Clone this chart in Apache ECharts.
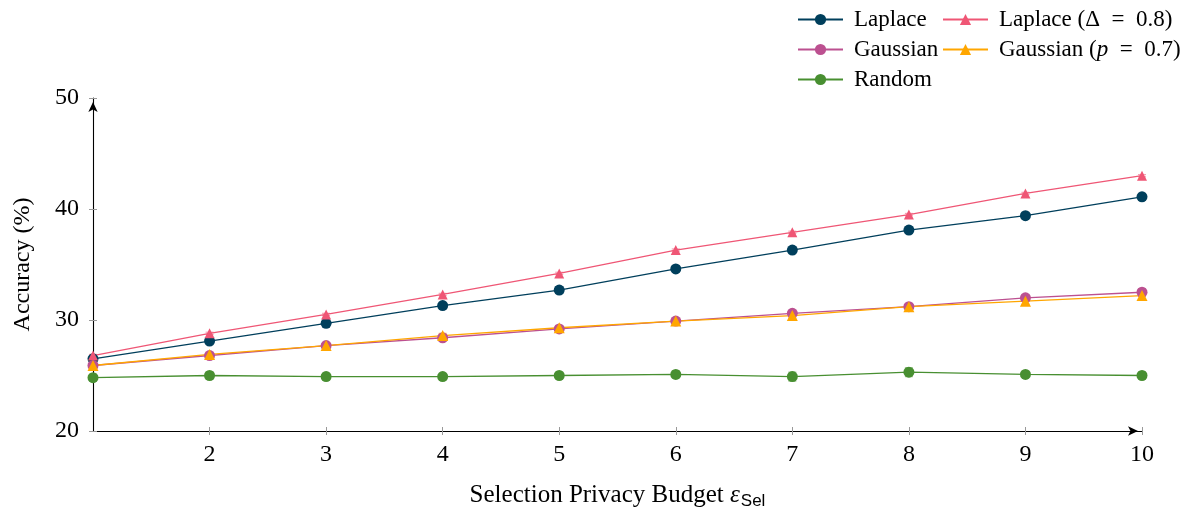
<!DOCTYPE html>
<html>
<head>
<meta charset="utf-8">
<script src="https://cdn.jsdelivr.net/npm/echarts@6/dist/echarts.min.js"></script>
<style>
  html, body { margin: 0; padding: 0; background: #fff; }
  #chart { width: 1190px; height: 511px; }
</style>
</head>
<body>
<div id="chart"></div>
<script>
// Selection privacy budget values on the x axis
const budgets = [1, 2, 3, 4, 5, 6, 7, 8, 9, 10];
const xTickLabels = [2, 3, 4, 5, 6, 7, 8, 9, 10];
const yTicks = [20, 30, 40, 50];

// Mean accuracy (%) per mechanism
const laplace      = [26.5, 28.1, 29.7, 31.3, 32.7, 34.6, 36.3, 38.1, 39.4, 41.1];
const laplaceDelta = [26.8, 28.8, 30.5, 32.3, 34.2, 36.3, 37.9, 39.5, 41.4, 43.0];
const gaussian     = [25.9, 26.8, 27.7, 28.4, 29.2, 29.9, 30.6, 31.2, 32.0, 32.5];
const gaussianP    = [25.9, 26.9, 27.7, 28.6, 29.3, 29.9, 30.4, 31.2, 31.7, 32.2];
const random       = [24.8, 25.0, 24.9, 24.9, 25.0, 25.1, 24.9, 25.3, 25.1, 25.0];

// Standard deviations shown as error bars
const laplaceErr      = [0.2, 0.2, 0.2, 0.2, 0.3, 0.2, 0.2, 0.3, 0.2, 0.3];
const laplaceDeltaErr = [0.1, 0.1, 0.1, 0.1, 0.1, 0.1, 0.1, 0.1, 0.1, 0.1];
const gaussianErr     = [0.2, 0.2, 0.2, 0.2, 0.2, 0.2, 0.2, 0.2, 0.3, 0.3];
const gaussianPErr    = [0.2, 0.2, 0.2, 0.2, 0.2, 0.2, 0.3, 0.2, 0.3, 0.4];
const randomErr       = [0.3, 0.3, 0.3, 0.2, 0.2, 0.3, 0.4, 0.4, 0.2, 0.3];

const seriesDefs = [
  { name: 'Laplace',            data: laplace,      err: laplaceErr,      color: '#003f5c', symbol: 'circle',   size: 11 },
  { name: 'Laplace (Δ = 0.8)',  data: laplaceDelta, err: laplaceDeltaErr, color: '#ef5675', symbol: 'triangle', size: 10 },
  { name: 'Gaussian',           data: gaussian,     err: gaussianErr,     color: '#bc5090', symbol: 'circle',   size: 11 },
  { name: 'Gaussian (p = 0.7)', data: gaussianP,    err: gaussianPErr,    color: '#ffa600', symbol: 'triangle', size: 11 },
  { name: 'Random',             data: random,       err: randomErr,       color: '#488f31', symbol: 'circle',   size: 11 }
];

const FONT = '"Liberation Serif", "DejaVu Serif", serif';

function errorBarSeries(def) {
  return {
    type: 'custom',
    name: def.name + ' err',
    z: 1,
    silent: true,
    data: budgets.map((x, i) => [x, def.data[i] - def.err[i], def.data[i] + def.err[i]]),
    encode: { x: 0, y: [1, 2] },
    renderItem: function (params, api) {
      const x = api.value(0);
      const lo = api.coord([x, api.value(1)]);
      const hi = api.coord([x, api.value(2)]);
      const hw = 4;
      const style = { stroke: def.color, lineWidth: 1.2, opacity: 0.55 };
      return {
        type: 'group',
        children: [
          { type: 'line', shape: { x1: lo[0], y1: lo[1], x2: hi[0], y2: hi[1] }, style },
          { type: 'line', shape: { x1: lo[0] - hw, y1: lo[1], x2: lo[0] + hw, y2: lo[1] }, style },
          { type: 'line', shape: { x1: hi[0] - hw, y1: hi[1], x2: hi[0] + hw, y2: hi[1] }, style }
        ]
      };
    }
  };
}

function lineSeries(def) {
  return {
    type: 'line',
    name: def.name,
    z: 2,
    data: budgets.map((x, i) => [x, def.data[i]]),
    symbol: def.symbol,
    symbolSize: def.size,
    showSymbol: true,
    color: def.color,
    lineStyle: { color: def.color, width: 1.3 },
    itemStyle: { color: def.color },
    emphasis: { disabled: true },
    animation: false
  };
}

const legendText = {
  fontFamily: FONT,
  fontSize: 23,
  color: '#000',
  lineHeight: 23,
  padding: [0, 0, 0, 6],
  rich: {
    i: { fontFamily: FONT, fontSize: 23, fontStyle: 'italic', color: '#000' }
  }
};
// Math-style spacing around "=" and an italic p in the legend entries
const legendFormatter = name => name
  .replace(' = ', '\u2002=\u2002')
  .replace('(p', '({i|p}');

const chart = echarts.init(document.getElementById('chart'), null, { renderer: 'canvas' });

const sharedX = { type: 'value', min: 1, max: 10, interval: 1, position: 'bottom', splitLine: { show: false } };
const sharedY = { type: 'value', min: 20, max: 50, interval: 10, position: 'left', splitLine: { show: false } };

chart.setOption({
  animation: false,
  backgroundColor: '#fff',
  grid: { left: 93, right: 48, top: 98, bottom: 80, containLabel: false, outerBoundsMode: 'none' },
  legend: [
    {
      data: ['Laplace', 'Gaussian', 'Random'],
      orient: 'vertical', left: 792, top: 3,
      itemWidth: 45, itemHeight: 14, itemGap: 7,
      textStyle: legendText, formatter: legendFormatter,
      selectedMode: false
    },
    {
      data: ['Laplace (Δ = 0.8)', 'Gaussian (p = 0.7)'],
      orient: 'vertical', left: 937, top: 3,
      itemWidth: 45, itemHeight: 14, itemGap: 7,
      textStyle: legendText, formatter: legendFormatter,
      selectedMode: false
    }
  ],
  xAxis: [
    Object.assign({}, sharedX, {
      axisLine: { show: true, lineStyle: { color: '#000', width: 1.1 }, symbol: ['none', 'arrow'], symbolSize: [7, 10], symbolOffset: [0, -4] },
      axisTick: { show: true, inside: false, length: 4, lineStyle: { color: '#999' }, customValues: xTickLabels },
      axisLabel: { show: true, margin: 12, fontFamily: FONT, fontSize: 24, color: '#000', customValues: xTickLabels },
      name: '{n|Selection Privacy Budget }{e|ε}{s|Sel}',
      nameLocation: 'middle',
      nameGap: 50,
      nameTextStyle: {
        rich: {
          n: { fontFamily: FONT, fontSize: 25, color: '#000' },
          e: { fontFamily: FONT, fontSize: 25, fontStyle: 'italic', color: '#000' },
          s: { fontFamily: '"Liberation Sans", "DejaVu Sans", sans-serif', fontSize: 17, color: '#000', padding: [12, 0, 0, 1] }
        }
      }
    }),
    Object.assign({}, sharedX, {
      axisLine: { show: false },
      axisTick: { show: true, inside: true, length: 4, lineStyle: { color: '#999' }, customValues: xTickLabels },
      axisLabel: { show: false }
    })
  ],
  yAxis: [
    Object.assign({}, sharedY, {
      axisLine: { show: true, lineStyle: { color: '#000', width: 1.1 }, symbol: ['none', 'arrow'], symbolSize: [7, 10], symbolOffset: [0, -4] },
      axisTick: { show: true, inside: false, length: 4, lineStyle: { color: '#999' } },
      axisLabel: { show: true, margin: 14, fontFamily: FONT, fontSize: 24, color: '#000', customValues: yTicks },
      name: 'Accuracy (%)',
      nameLocation: 'middle',
      nameGap: 58,
      nameTextStyle: { fontFamily: FONT, fontSize: 24, color: '#000' }
    }),
    Object.assign({}, sharedY, {
      axisLine: { show: false },
      axisTick: { show: true, inside: true, length: 4, lineStyle: { color: '#999' } },
      axisLabel: { show: false }
    })
  ],
  series: seriesDefs.map(errorBarSeries).concat(seriesDefs.map(lineSeries))
});
</script>
</body>
</html>
